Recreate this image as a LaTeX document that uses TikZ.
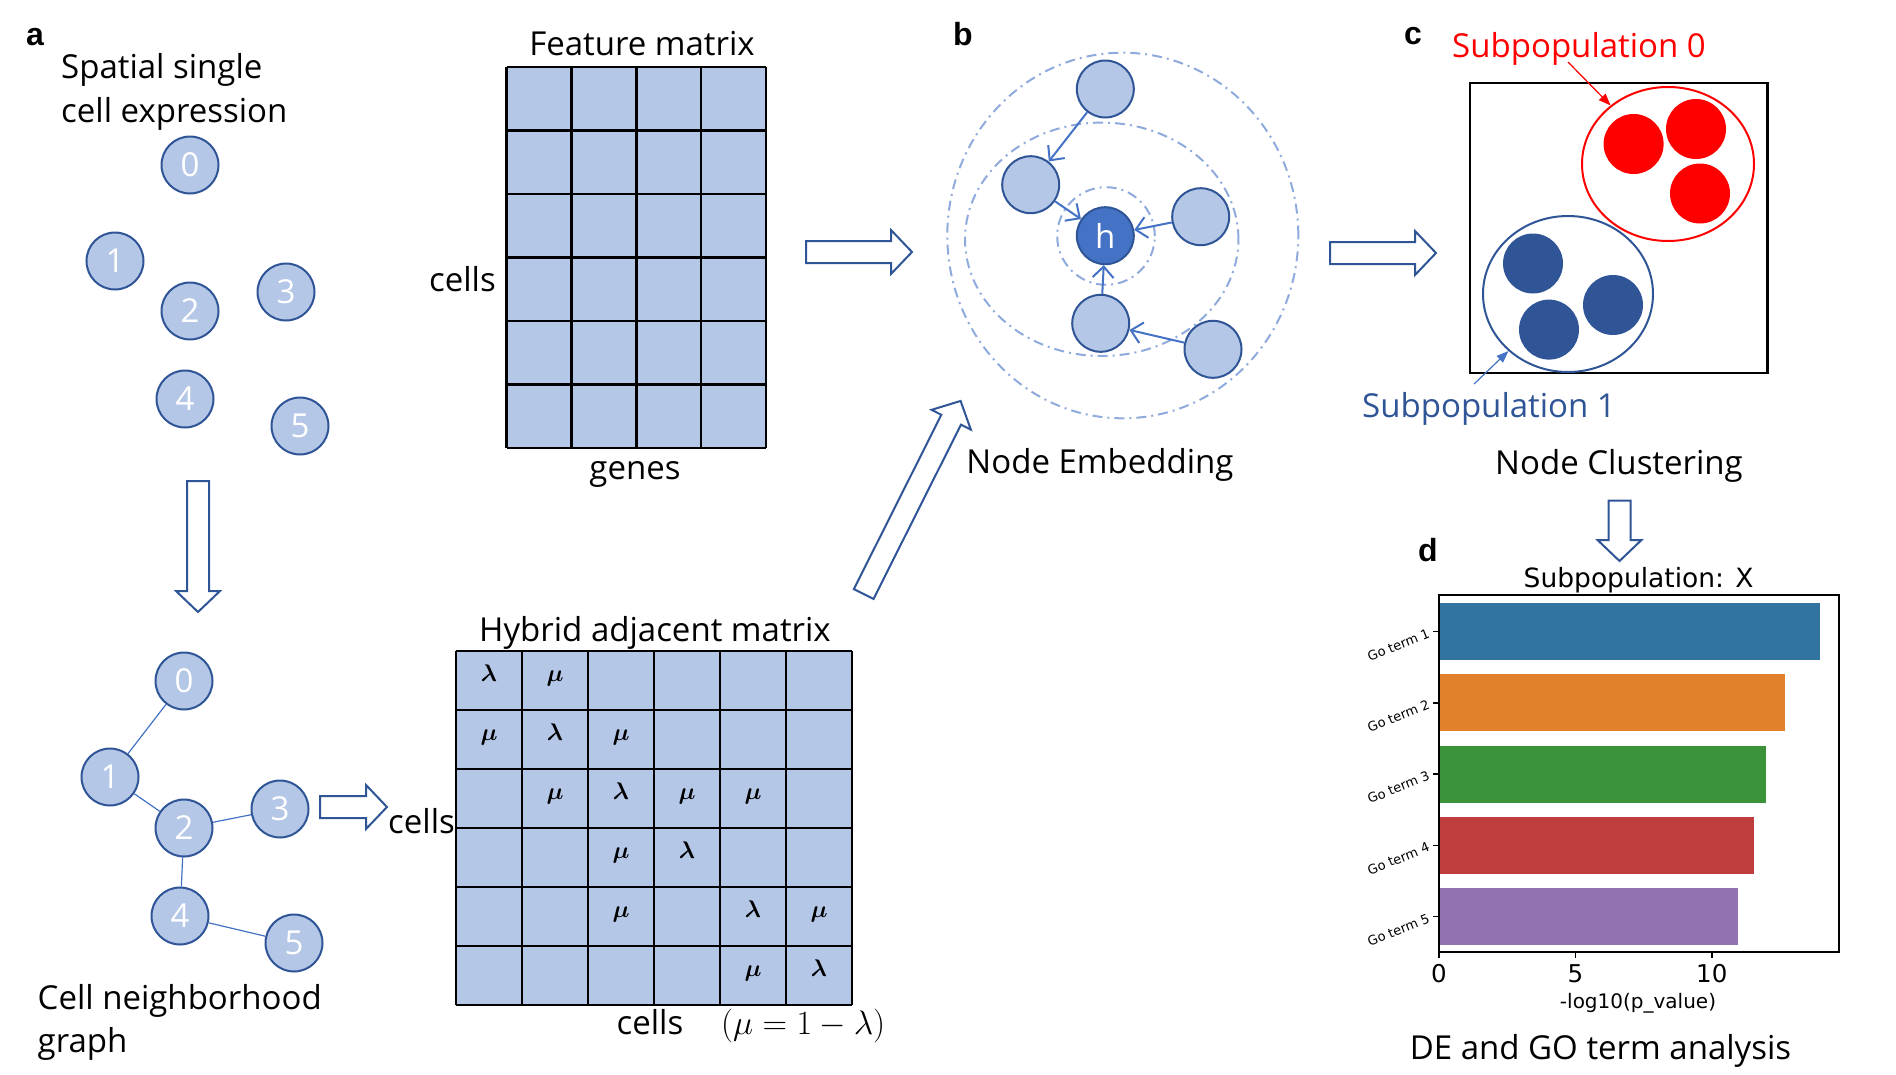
\RequirePackage{fix-cm}
\documentclass[tikz,border=0pt]{standalone}
\usepackage{bm}
\usepackage[no-math]{fontspec}
\setmainfont{Open Sans}
\newfontfamily\dejavu{DejaVu Sans}
\newfontfamily\arialb{Liberation Sans}
\usetikzlibrary{arrows.meta,shapes.geometric}
\definecolor{lightfill}{HTML}{B4C7E7}
\definecolor{nodeborder}{HTML}{2F5597}
\definecolor{edgeblue}{HTML}{4472C4}
\definecolor{ringblue}{HTML}{8FAADC}
\definecolor{barA}{HTML}{3274A1}
\definecolor{barB}{HTML}{E1812C}
\definecolor{barC}{HTML}{3A923A}
\definecolor{barD}{HTML}{C03D3E}
\definecolor{barE}{HTML}{9372B2}
\definecolor{subred}{HTML}{FF0000}
\newcommand{\hollowarrow}[4]{%
  \begin{scope}[shift={(#1,#2)},rotate=#3]
    \draw[blockarrow] (0,-11) -- ({#4-21},-11) -- ({#4-21},-22) -- (#4,0) -- ({#4-21},22) -- ({#4-21},11) -- (0,11) -- cycle;
  \end{scope}}
\begin{document}
\begin{tikzpicture}[x=1pt,y=-1pt,
  lab/.style={inner sep=0pt, font=\fontsize{33}{40}\selectfont},
  panel/.style={inner sep=0pt, anchor=base west, font=\arialb\bfseries\fontsize{32}{38}\selectfont},
  cell/.style={circle, draw=nodeborder, line width=2pt, fill=lightfill, minimum size=57pt, inner sep=0pt, text=white, font=\fontsize{33}{40}\selectfont},
  hcell/.style={cell, fill=edgeblue},
  nbedge/.style={draw=edgeblue, line width=1.2pt},
  msg/.style={draw=edgeblue, line width=2pt, -{Straight Barb[length=11pt,width=21pt]}},
  ring/.style={ellipse, draw=ringblue, line width=2pt, dash pattern=on 10pt off 5pt on 2pt off 5pt, inner sep=0pt},
  blockarrow/.style={draw=nodeborder, line width=2pt, fill=white, line join=miter},
  gridline/.style={line width=2.5pt, black},
  sym/.style={inner sep=0pt, anchor=base, font=\fontsize{24}{28}\selectfont},
  cluster/.style={circle, minimum size=60pt, inner sep=0pt},
  charttitle/.style={inner sep=0pt, anchor=base, font=\dejavu\fontsize{26.5}{30}\selectfont},
  ticklab/.style={inner sep=0pt, anchor=base, font=\dejavu\fontsize{24.5}{28}\selectfont},
  axislab/.style={inner sep=0pt, anchor=base, font=\dejavu\fontsize{20}{24}\selectfont},
  goterm/.style={inner sep=0pt, anchor=east, rotate=22, font=\dejavu\fontsize{13}{15}\selectfont}]
\useasboundingbox (0,0) rectangle (1896,1074);

% ---------------- panel a ----------------
\node[panel] (la) at (26,45) {a};
\node[lab, anchor=base west] (tsp1) at (61,78.5) {Spatial single};
\node[lab, anchor=base west] (tsp2) at (61,122) {cell expression};
\node[cell] (a0) at (190,165) {0};
\node[cell] (a1) at (115,261) {1};
\node[cell] (a2) at (190,311) {2};
\node[cell] (a3) at (286,292) {3};
\node[cell] (a4) at (185,399) {4};
\node[cell] (a5) at (300,426) {5};

% feature matrix
\fill[lightfill] (506.5,67) rectangle (766,448);
\foreach \i in {0,...,4} \draw[gridline] ({506.5+64.875*\i},67) -- ({506.5+64.875*\i},448);
\foreach \j in {0,...,6} \draw[gridline] (506.5,{67+63.5*\j}) -- (766,{67+63.5*\j});
\node[lab, anchor=base] (tfeat) at (642,55) {Feature matrix};
\node[lab, anchor=base east] (tcells1) at (496,291) {cells};
\node[lab, anchor=base] (tgenes) at (635,479) {genes};

% block arrows
\hollowarrow{806}{252}{0}{106}
\hollowarrow{198}{481}{-90}{131}
\hollowarrow{320}{807}{0}{67}
\hollowarrow{863.7}{594}{63.35}{216}
\hollowarrow{1330}{253}{0}{106}
\hollowarrow{1619.5}{500.7}{-90}{60.3}

% neighborhood graph
\node[cell] (g0) at (184,681) {0};
\node[cell] (g1) at (110,777) {1};
\node[cell] (g2) at (184,828) {2};
\node[cell] (g3) at (280,809) {3};
\node[cell] (g4) at (180,916) {4};
\node[cell] (g5) at (294,943) {5};
\draw[nbedge] (g0) -- (g1);
\draw[nbedge] (g1) -- (g2);
\draw[nbedge] (g2) -- (g3);
\draw[nbedge] (g2) -- (g4);
\draw[nbedge] (g4) -- (g5);
\node[lab, anchor=base west] (tcn1) at (37.5,1009) {Cell neighborhood};
\node[lab, anchor=base west] (tcn2) at (37.5,1052.6) {graph};

% hybrid adjacency matrix
\fill[lightfill] (456,651) rectangle (852,1005);
\foreach \i in {0,...,6} \draw[gridline] ({456+66*\i},651) -- ({456+66*\i},1005);
\foreach \j in {0,...,6} \draw[gridline] (456,{651+59*\j}) -- (852,{651+59*\j});
\foreach \c in {1,...,6} \node[sym] (lam\c) at ({456+66*\c-33},{651+59*\c-28.5}) {$\bm{\lambda}$};
\foreach \c/\r in {2/1,1/2,3/2,2/3,4/3,5/3,3/4,3/5,6/5,5/6}
  \node[sym] (mu\c\r) at ({456+66*\c-33},{651+59*\r-28.5}) {$\bm{\mu}$};
\node[lab, anchor=base] (thyb) at (655,641.5) {Hybrid adjacent matrix};
\node[lab, anchor=base west] (tcells2) at (388,833) {cells};
\node[lab, anchor=base] (tcells3) at (650,1034) {cells};
\node[inner sep=0pt, anchor=base west, font=\fontsize{34}{40}\selectfont] (teq) at (721,1034) {$(\mu=1-\lambda)$};

% ---------------- panel b ----------------
\node[panel] (lb) at (953,45) {b};
\node[ring, minimum width=351pt, minimum height=365.6pt] (ringout) at (1122.8,235.5) {};
\node[ring, minimum width=273.4pt, minimum height=233.4pt] (ringmid) at (1101.7,239.3) {};
\node[ring, minimum width=97.6pt, minimum height=97.6pt] (ringin) at (1106,236) {};
\node[cell] (e1) at (1105.3,89) {};
\node[cell] (e2) at (1030.7,184.7) {};
\node[hcell] (eh) at (1105.3,235.7) {h};
\node[cell] (e3) at (1200.7,216.7) {};
\node[cell] (e4) at (1100.7,323.3) {};
\node[cell] (e5) at (1213,349.3) {};
\draw[msg] (e1) -- (e2);
\draw[msg] (e2) -- (eh);
\draw[msg] (e3) -- (eh);
\draw[msg] (e4) -- (eh);
\draw[msg] (e5) -- (e4);
\node[lab, anchor=base] (temb) at (1100,473.5) {Node Embedding};

% ---------------- panel c ----------------
\node[panel] (lc) at (1404,44) {c};
\draw[line width=2.5pt] (1470,83) rectangle (1767.5,373);
\node[ellipse, draw=subred, line width=2pt, minimum width=172pt, minimum height=154pt, inner sep=0pt] (redell) at (1668,164) {};
\node[ellipse, draw=nodeborder, line width=2pt, minimum width=170pt, minimum height=156pt, inner sep=0pt] (blueell) at (1568,294) {};
\node[cluster, fill=subred] (r1) at (1633.6,144) {};
\node[cluster, fill=subred] (r2) at (1696,129) {};
\node[cluster, fill=subred] (r3) at (1700,193.5) {};
\node[cluster, fill=nodeborder] (b1) at (1533,263.5) {};
\node[cluster, fill=nodeborder] (b2) at (1613,305) {};
\node[cluster, fill=nodeborder] (b3) at (1549,329.6) {};
\node[lab, anchor=base, text=subred] (tsub0) at (1579,57) {Subpopulation 0};
\node[lab, anchor=base, text=nodeborder] (tsub1) at (1489,417) {Subpopulation 1};
\coordinate (p0) at (1568,62);
\coordinate (p1) at (1474,384);
\draw[subred, line width=1.2pt, -{Triangle[length=12pt,width=9pt]}] (p0) -- (redell);
\draw[edgeblue, line width=1.2pt, -{Triangle[length=12pt,width=9pt]}] (p1) -- (blueell);
\node[lab, anchor=base] (tclu) at (1619,474.5) {Node Clustering};

% ---------------- panel d ----------------
\node[panel] (ld) at (1418,561) {d};
\node[charttitle] (ttitle) at (1638.6,587.7) {Subpopulation: X};
\fill[barA] (1439,603) rectangle (1820,660);
\fill[barB] (1439,674.25) rectangle (1785,731.25);
\fill[barC] (1439,745.5) rectangle (1766.4,802.5);
\fill[barD] (1439,816.75) rectangle (1753.6,873.75);
\fill[barE] (1439,888) rectangle (1738,945);
\draw[line width=1.5pt] (1439,595) rectangle (1839,952);
\foreach \x in {1439,1575.3,1711.8} \draw[line width=1.5pt] (\x,952) -- (\x,958);
\foreach \i in {1,...,5} {
  \draw[line width=1.5pt] (1433,{631.5+71.25*(\i-1)}) -- (1439,{631.5+71.25*(\i-1)});
  \node[goterm] (go\i) at (1429,{632.5+71.25*(\i-1)}) {Go term \i};
}
\node[ticklab] (x0) at (1439,982) {0};
\node[ticklab] (x5) at (1575.3,982) {5};
\node[ticklab] (x10) at (1711.8,982) {10};
\node[axislab] (xlab) at (1638,1008) {-log10(p\_value)};
\node[lab, anchor=base] (tde) at (1600.5,1059) {DE and GO term analysis};
\end{tikzpicture}
\end{document}
